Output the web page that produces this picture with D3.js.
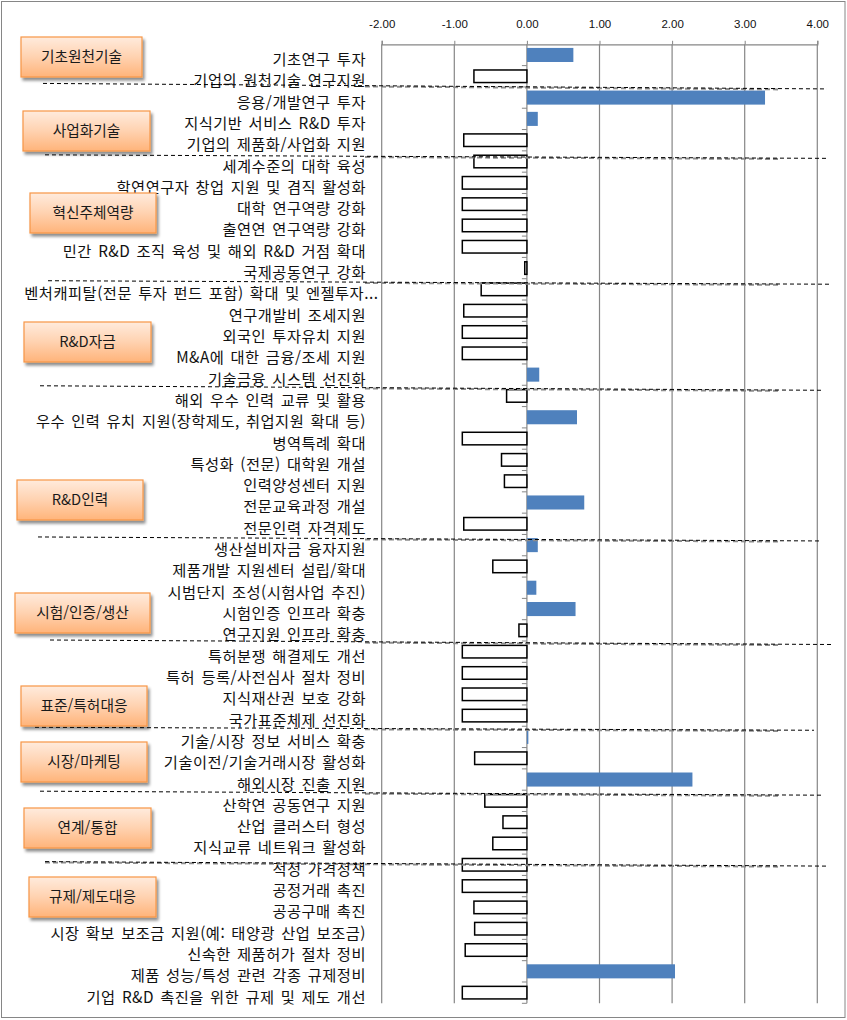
<!DOCTYPE html>
<html lang="ko">
<head>
<meta charset="utf-8" />
<title>정책 수요 차트</title>
<style>
  body { margin: 0; background: #fff; }
  svg { display: block; }
  .cat { font: 15.3px "Noto Sans CJK KR", sans-serif; fill: #111; word-spacing: 1.4px; letter-spacing: 0.5px; }
  .box-text { font: 14.7px "Noto Sans CJK KR", sans-serif; fill: #1a1a1a; }
  .axis text { font: 11.5px "Liberation Sans", Arial, sans-serif; fill: #111; }
  .axis path, .axis line { stroke: #868686; }
</style>
</head>
<body>
<div id="chart"></div>
<script src="https://d3js.org/d3.v7.min.js"></script>
<script>
// ---- data ----
const categories = [
  "기초연구 투자", "기업의 원천기술 연구지원",
  "응용/개발연구 투자", "지식기반 서비스 R&D 투자", "기업의 제품화/사업화 지원",
  "세계수준의 대학 육성", "학연연구자 창업 지원 및 겸직 활성화", "대학 연구역량 강화",
  "출연연 연구역량 강화", "민간 R&D 조직 육성 및 해외 R&D 거점 확대", "국제공동연구 강화",
  "벤처캐피탈(전문 투자 펀드 포함) 확대 및 엔젤투자...", "연구개발비 조세지원", "외국인 투자유치 지원",
  "M&A에 대한 금융/조세 지원", "기술금융 시스템 선진화",
  "해외 우수 인력 교류 및 활용", "우수 인력 유치 지원(장학제도, 취업지원 확대 등)", "병역특례 확대",
  "특성화 (전문) 대학원 개설", "인력양성센터 지원", "전문교육과정 개설", "전문인력 자격제도",
  "생산설비자금 융자지원", "제품개발 지원센터 설립/확대", "시범단지 조성(시험사업 추진)",
  "시험인증 인프라 확충", "연구지원 인프라 확충",
  "특허분쟁 해결제도 개선", "특허 등록/사전심사 절차 정비", "지식재산권 보호 강화", "국가표준체제 선진화",
  "기술/시장 정보 서비스 확충", "기술이전/기술거래시장 활성화", "해외시장 진출 지원",
  "산학연 공동연구 지원", "산업 클러스터 형성", "지식교류 네트워크 활성화",
  "적정 가격정책", "공정거래 촉진", "공공구매 촉진", "시장 확보 보조금 지원(예: 태양광 산업 보조금)",
  "신속한 제품허가 절차 정비", "제품 성능/특성 관련 각종 규제정비", "기업 R&D 촉진을 위한 규제 및 제도 개선"
];
const values = [
  0.64, -0.74,
  3.28, 0.15, -0.88,
  -0.74, -0.90, -0.90, -0.90, -0.90, -0.04,
  -0.64, -0.88, -0.90, -0.90, 0.17,
  -0.29, 0.69, -0.90, -0.36, -0.32, 0.79, -0.88,
  0.15, -0.48, 0.13, 0.67, -0.12,
  -0.90, -0.90, -0.90, -0.90,
  0.02, -0.73, 2.28,
  -0.59, -0.34, -0.48,
  -0.90, -0.90, -0.74, -0.73, -0.86, 2.04, -0.90
];
const groupNames = ["기초원천기술", "사업화기술", "혁신주체역량", "R&D자금", "R&D인력",
  "시험/인증/생산", "표준/특허대응", "시장/마케팅", "연계/통합", "규제/제도대응"];
const groupSizes = [2, 3, 6, 5, 7, 5, 4, 3, 3, 7];
const tickValues = [-2, -1, 0, 1, 2, 3, 4];

// ---- annotation layout (hand-placed shapes in the original) ----
const boxLayout = [
  [21, 37, 121], [23, 111, 127], [30, 193, 126], [24, 322, 127], [17, 480, 126],
  [15, 593, 135], [21, 686, 126], [21, 742, 126], [24, 808, 127], [29, 877, 127]
];
const boxH = 40;
// separator: [x left, x right, dy left, dy right] relative to group boundary
const sepLayout = [
  [43, 827, -3.5, 2], [45, 827, 4, 7.5], [48, 831, 2, 5.5], [40, 822, 0.5, 5],
  [38, 820, 2.5, 6.5], [50, 832, -1, 3.5], [35, 814, 1, 4], [40, 822, 1, 5], [45, 829, 7.5, 12]
];

// ---- setup ----
const W = 847, H = 1020;
const svg = d3.select("#chart").append("svg").attr("width", W).attr("height", H);

const x = d3.scaleLinear().domain([-2, 4]).range([381.7, 817.3]);
const y = d3.scaleBand().domain(d3.range(categories.length))
  .range([44.3, 1003.3]).paddingInner(0.34).paddingOuter(0.17);
const step = y.step();
const plotTop = y.range()[0], plotBottom = y.range()[1];

// outer frame
svg.append("rect").attr("x", 1.5).attr("y", 1.5).attr("width", W - 3.5).attr("height", H - 4)
  .attr("fill", "#fff").attr("stroke", "#868686").attr("stroke-width", 1);

// gridlines
svg.append("g").selectAll("line").data(tickValues).join("line")
  .attr("x1", d => x(d)).attr("x2", d => x(d))
  .attr("y1", plotTop).attr("y2", plotBottom)
  .attr("stroke", "#868686").attr("stroke-width", 1.2);

// top axis
const axis = svg.append("g").attr("class", "axis")
  .attr("transform", `translate(0,${plotTop})`)
  .call(d3.axisTop(x).tickValues(tickValues).tickFormat(d => d.toFixed(2)).tickSize(3.5).tickPadding(13));
axis.select(".domain").attr("stroke-width", 1.2);

// category tick marks on the zero line
svg.append("g").selectAll("line").data(d3.range(1, categories.length + 1)).join("line")
  .attr("x1", x(0) - 5).attr("x2", x(0))
  .attr("y1", i => plotTop + i * step).attr("y2", i => plotTop + i * step)
  .attr("stroke", "#868686").attr("stroke-width", 1);

// bars
svg.append("g").selectAll("rect").data(values).join("rect")
  .attr("x", d => d >= 0 ? x(0) : x(d) + 0.75)
  .attr("y", (d, i) => y(i) + (d >= 0 ? 0 : 0.75))
  .attr("width", d => d >= 0 ? x(d) - x(0) : x(0) - x(d) - 0.75)
  .attr("height", d => d >= 0 ? y.bandwidth() : y.bandwidth() - 1.5)
  .attr("fill", d => d >= 0 ? "#4F81BD" : "#fff")
  .attr("stroke", d => d >= 0 ? "none" : "#000")
  .attr("stroke-width", 1.5);

// category labels
svg.append("g").selectAll("text").data(categories).join("text")
  .attr("class", "cat")
  .attr("x", d => d.endsWith("...") ? 378.5 : 366)
  .attr("y", (d, i) => y(i) + y.bandwidth() / 2 + 4.5)
  .attr("dy", "0.36em")
  .attr("text-anchor", "end")
  .text(d => d);

// separators between groups
const starts = d3.cumsum(groupSizes).slice(0, -1);
const sep = svg.append("g");
starts.forEach((s, k) => {
  const yb = plotTop + s * step;
  const [xl, xr, dl, dr] = sepLayout[k];
  const slope = (dr - dl) / (xr - xl);
  const gx1 = k === starts.length - 1 ? xl : 365, gx2 = 780;
  sep.append("line")
    .attr("x1", gx1).attr("x2", gx2)
    .attr("y1", yb + dl + slope * (gx1 - xl) + 0.8).attr("y2", yb + dl + slope * (gx2 - xl) + 0.8)
    .attr("stroke", "#8c8c8c").attr("stroke-width", 2).attr("stroke-dasharray", "5,3");
  sep.append("line")
    .attr("x1", xl).attr("x2", xr).attr("y1", yb + dl).attr("y2", yb + dr)
    .attr("stroke", "#000").attr("stroke-width", 1).attr("stroke-dasharray", "4,3");
});

// group boxes
const defs = svg.append("defs");
const grad = defs.append("linearGradient").attr("id", "boxGrad")
  .attr("x1", 0).attr("y1", 0).attr("x2", 0).attr("y2", 1);
grad.append("stop").attr("offset", "0%").attr("stop-color", "#FFEBDD");
grad.append("stop").attr("offset", "50%").attr("stop-color", "#FFD2B0");
grad.append("stop").attr("offset", "100%").attr("stop-color", "#FFB47A");
const shadow = defs.append("filter").attr("id", "shadow")
  .attr("x", "-10%").attr("y", "-20%").attr("width", "130%").attr("height", "160%");
shadow.append("feGaussianBlur").attr("in", "SourceAlpha").attr("stdDeviation", 1.8).attr("result", "b");
shadow.append("feOffset").attr("in", "b").attr("dx", 1.5).attr("dy", 2.5).attr("result", "o");
shadow.append("feComponentTransfer").attr("in", "o").attr("result", "s")
  .append("feFuncA").attr("type", "linear").attr("slope", 0.45);
const merge = shadow.append("feMerge");
merge.append("feMergeNode").attr("in", "s");
merge.append("feMergeNode").attr("in", "SourceGraphic");

const boxes = svg.append("g").selectAll("g").data(groupNames).join("g")
  .attr("transform", (d, i) => `translate(${boxLayout[i][0]},${boxLayout[i][1]})`);
boxes.append("rect")
  .attr("width", (d, i) => boxLayout[i][2]).attr("height", boxH)
  .attr("fill", "url(#boxGrad)").attr("stroke", "#F79646").attr("stroke-width", 1.2)
  .attr("filter", "url(#shadow)");
boxes.append("text").attr("class", "box-text")
  .attr("x", (d, i) => boxLayout[i][2] / 2).attr("y", boxH / 2).attr("dy", "0.36em")
  .attr("text-anchor", "middle")
  .text(d => d);
</script>
</body>
</html>
